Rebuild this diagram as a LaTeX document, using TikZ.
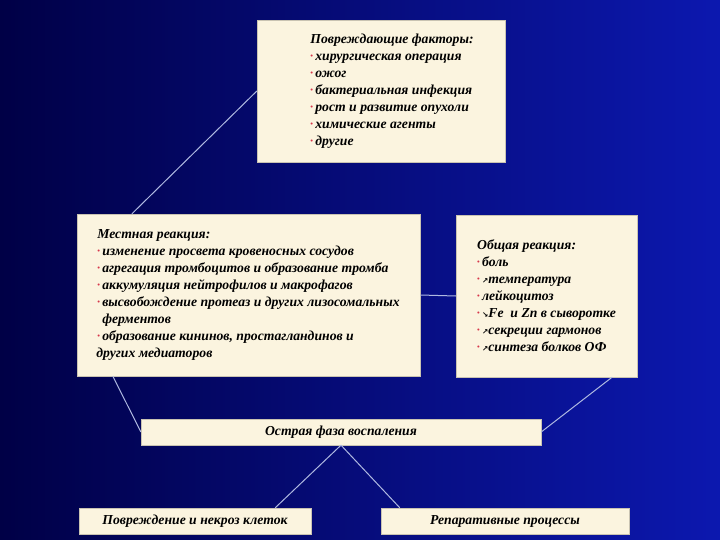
\documentclass[tikz,border=0pt]{standalone}
\usepackage{fontspec}
\setmainfont{Liberation Serif}
\newfontfamily\arrowfont{DejaVu Sans}
\usetikzlibrary{calc}
\definecolor{bgdark}{RGB}{0,0,70}
\definecolor{bglight}{RGB}{12,24,175}
\definecolor{boxfill}{RGB}{251,244,223}
\definecolor{linkclr}{RGB}{175,185,225}
\definecolor{bulred}{RGB}{215,55,75}
\newcommand{\bul}{\textcolor{bulred}{\raisebox{0.35ex}{\fontsize{7.5}{7.5}\selectfont\textbullet}}\,}
\newcommand{\up}{{\arrowfont\fontsize{7.5}{7.5}\selectfont ↗}}
\newcommand{\down}{{\arrowfont\fontsize{7.5}{7.5}\selectfont ↘}}
\tikzset{
  box/.style={fill=boxfill, draw=boxfill!80!black, line width=.3pt, align=left,
    font=\fontsize{13.7}{17}\selectfont\bfseries\itshape, inner sep=0pt},
  bar/.style={box, minimum height=26pt, align=center},
  link/.style={draw=linkclr, line width=1pt}
}
\begin{document}
\begin{tikzpicture}[x=1pt,y=-1pt]
\shade[left color=bgdark, right color=bglight] (0,0) rectangle (720,540);
\useasboundingbox (0,0) rectangle (720,540);
\node[box, minimum width=248pt, minimum height=142pt] (factors) at(381,91) {%
\hspace{22pt}\raisebox{-3pt}{\begin{tabular}{@{}l@{}}
Повреждающие факторы:\\
\bul хирургическая операция\\
\bul ожог\\
\bul бактериальная инфекция\\
\bul рост и развитие опухоли\\
\bul химические агенты\\
\bul другие
\end{tabular}}};
\node[box, minimum width=343pt, minimum height=162pt] (local) at(248.5,295) {%
Местная реакция:\\
\bul изменение просвета кровеносных сосудов\\
\bul агрегация тромбоцитов и образование тромба\\
\bul аккумуляция нейтрофилов и макрофагов\\
\bul высвобождение протеаз и других лизосомальных\\
\hspace{5pt}ферментов\\
\bul образование кининов, простагландинов и\\
\hspace{-1pt}других медиаторов};
\node[box, minimum width=181pt, minimum height=162pt] (general) at(546.5,296) {%
Общая реакция:\\
\bul боль\\
\bul \up температура\\
\bul лейкоцитоз\\
\bul \down Fe\ \ и Zn в сыворотке\\
\bul \up секреции гармонов\\
\bul \up синтеза болков ОФ};
\node[bar, minimum width=400pt] (acute) at(341,432) {Острая фаза воспаления};
\node[bar, minimum width=232pt] (damage) at(195,521) {Повреждение и некроз клеток};
\node[bar, minimum width=248pt] (repair) at(505,521) {Репаративные процессы};
% connectors
\draw[link] (factors.west) -- ([xshift=55pt]local.north west);
\draw[link] (local.east) -- (general.west);
\draw[link] ([xshift=36pt]local.south west) -- (acute.west);
\draw[link] ([xshift=-25pt]general.south east) -- (acute.east);
\draw[link] (acute.south) -- ([xshift=-36pt]damage.north east);
\draw[link] (acute.south) -- ([xshift=19pt]repair.north west);
\end{tikzpicture}
\end{document}
